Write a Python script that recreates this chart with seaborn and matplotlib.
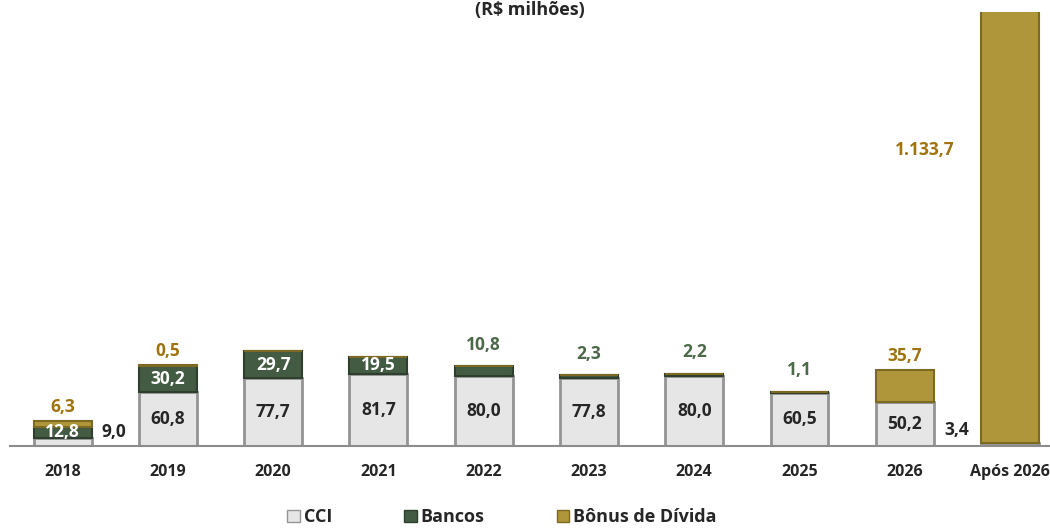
import matplotlib
matplotlib.use("Agg")
import matplotlib.pyplot as plt
import seaborn as sns
import pandas as pd
from matplotlib.patches import Patch

# Dados do cronograma de amortizacao (R$ milhoes)
anos = ["2018", "2019", "2020", "2021", "2022", "2023", "2024", "2025", "2026", "Após 2026"]
cci = [9.0, 60.8, 77.7, 81.7, 80.0, 77.8, 80.0, 60.5, 50.2, 3.4]
bancos = [12.8, 30.2, 29.7, 19.5, 10.8, 2.3, 2.2, 1.1, 0.0, 0.0]
bonus = [6.3, 0.5, 0.0, 0.0, 0.0, 0.0, 0.0, 0.0, 35.7, 1133.7]

cor_cci = "#e6e6e6"
cor_bancos = "#435b43"
cor_bonus = "#b0963a"
txt_bancos = "#4c6a49"
txt_bonus = "#a0730e"

sns.set_style("white")
plt.rcParams["font.family"] = ["Open Sans", "DejaVu Sans"]

df = pd.DataFrame({"ano": anos, "CCI": cci, "Bancos": bancos, "Bonus": bonus})
df["base_bonus"] = df["CCI"] + df["Bancos"]

fig = plt.figure(figsize=(10.5, 5.28), dpi=100)
ax = fig.add_axes([10 / 1050, 82 / 528, 1040 / 1050, 434 / 528])

sns.barplot(data=df, x="ano", y="CCI", color=cor_cci, width=0.55, ax=ax,
            edgecolor="#949494", linewidth=2, saturation=1)
sns.barplot(data=df, x="ano", y="Bancos", bottom=df["CCI"], color=cor_bancos, width=0.55,
            ax=ax, edgecolor="#2e3f2e", linewidth=1.5, saturation=1)
sns.barplot(data=df, x="ano", y="Bonus", bottom=df["base_bonus"], color=cor_bonus, width=0.55,
            ax=ax, edgecolor="#7d6a22", linewidth=1.5, saturation=1)

ax.set_ylim(0, 493)
ax.set_xlim(-0.5, 9.38)
ax.set_xlabel("")
ax.set_ylabel("")
ax.set_yticks([])
for s in ["top", "right", "left"]:
    ax.spines[s].set_visible(False)
ax.spines["bottom"].set_color("#8c8c8c")
ax.spines["bottom"].set_linewidth(1.5)
ax.set_xticks(range(len(anos)))
ax.set_xticklabels(anos, fontsize=11.5, fontweight="bold")
ax.set_xticks([i - 0.5 for i in range(len(anos))], minor=True)
ax.tick_params(axis="x", which="major", length=0, pad=13)
ax.tick_params(axis="x", which="minor", length=6, width=1.5, color="#8c8c8c")

fmt = lambda v: f"{v:,.1f}".replace(",", "X").replace(".", ",").replace("X", ".")
fs = 12.5

for i in range(len(anos)):
    c, b, o = cci[i], bancos[i], bonus[i]
    topo = c + b + o
    # CCI
    if c >= 20:
        ax.text(i, c / 2, fmt(c), ha="center", va="center", fontsize=fs, fontweight="bold")
    elif i == 0:
        ax.text(i + 0.49, 16, fmt(c), ha="center", va="center", fontsize=fs, fontweight="bold")
    else:
        ax.text(i - 0.51, 18, fmt(c), ha="center", va="center", fontsize=fs, fontweight="bold")
    # Bancos
    if b >= 12:
        ax.text(i, c + b / 2, fmt(b), ha="center", va="center", fontsize=fs,
                fontweight="bold", color="white")
    elif b > 0:
        ax.annotate(fmt(b), (i, topo), xytext=(0, 9), textcoords="offset points",
                    ha="center", va="bottom", fontsize=fs, fontweight="bold", color=txt_bancos)
    # Bonus
    if o > 0 and o < 500:
        ax.annotate(fmt(o), (i, topo), xytext=(0, 4), textcoords="offset points",
                    ha="center", va="bottom", fontsize=fs, fontweight="bold", color=txt_bonus)
    elif o >= 500:
        ax.text(8.19, 336, fmt(o), ha="center", va="center", fontsize=fs,
                fontweight="bold", color=txt_bonus)

fig.text(0.505, 0.998, "(R$ milhões)", ha="center", va="top", fontsize=13, fontweight="bold")

handles = [Patch(facecolor=cor_cci, edgecolor="#949494"),
           Patch(facecolor=cor_bancos, edgecolor="#2e3f2e"),
           Patch(facecolor=cor_bonus, edgecolor="#7d6a22")]
fig.legend(handles, ["CCI", "Bancos", "Bônus de Dívida"], loc="center", ncol=3,
           bbox_to_anchor=(0.478, 0.02), frameon=False, handlelength=0.7, handleheight=0.7,
           handletextpad=0.2, columnspacing=4.0, prop={"weight": "bold", "size": 13})

fig.savefig("out.png", dpi=100)
